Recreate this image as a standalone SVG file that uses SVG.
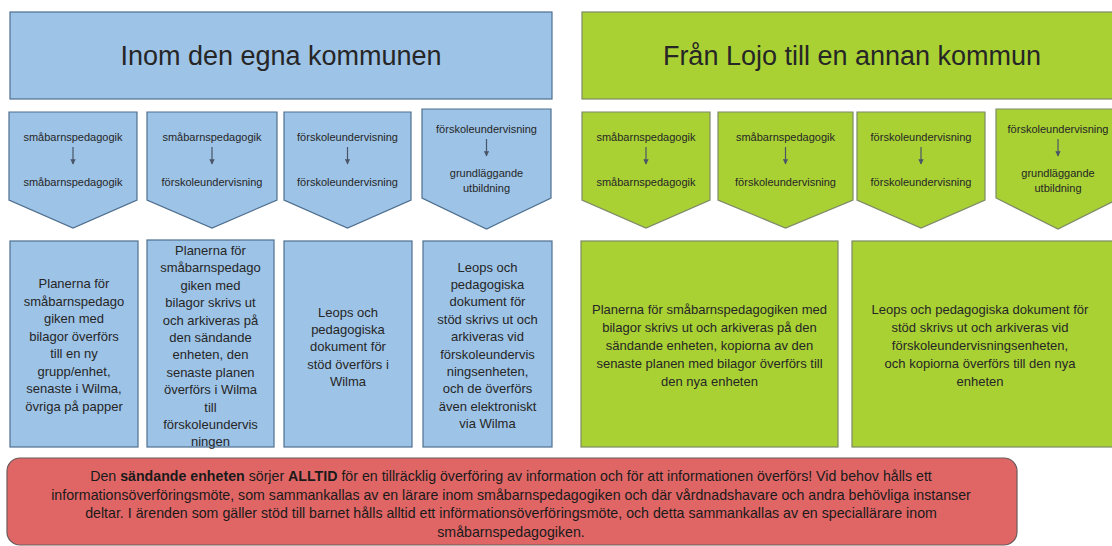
<svg xmlns="http://www.w3.org/2000/svg" width="1112" height="546" viewBox="0 0 1112 546">
<defs>
<style>
.bl{fill:#9dc3e6;stroke:#4f6f8f;stroke-width:1.2}
.gr{fill:#a9d134;stroke:#7d8a66;stroke-width:1.2}
.rd{fill:#e06666;stroke:#6b5a5a;stroke-width:1.2}
text{font-family:"Liberation Sans",Arial,sans-serif;fill:#262626;text-anchor:middle}
.t{font-size:27px}
.s{font-size:11px}
.m{font-size:13px}
.r{font-size:14.2px;fill:#1a1a1a}
.arr{stroke:#4a5568;stroke-width:1.2;fill:none}
</style>
<marker id="ah" viewBox="0 0 10 10" refX="9" refY="5" markerWidth="4.5" markerHeight="4.5" orient="auto"><path d="M0,0 L10,5 L0,10 Z" fill="#4a5568"/></marker>
</defs>
<rect width="1112" height="546" fill="#ffffff"/>

<g id="banner-left"><rect class="bl" x="10" y="12" width="542" height="87"/><text class="t" x="281" y="65">Inom den egna kommunen</text></g>
<g id="banner-right"><rect class="gr" x="582" y="12" width="540" height="87"/><text class="t" x="852" y="65">Från Lojo till en annan kommun</text></g>

<g id="p-b1"><path class="bl" d="M9,112 H137 V200 L73,228 L9,200 Z"/><text class="s" x="73" y="141">småbarnspedagogik</text><text class="s" x="73" y="186">småbarnspedagogik</text></g>
<g id="p-b2"><path class="bl" d="M147,112 H277 V200 L212,228 L147,200 Z"/><text class="s" x="212" y="141">småbarnspedagogik</text><text class="s" x="212" y="186">förskoleundervisning</text></g>
<g id="p-b3"><path class="bl" d="M284,112 H411 V200 L347.5,228 L284,200 Z"/><text class="s" x="347.5" y="141">förskoleundervisning</text><text class="s" x="347.5" y="186">förskoleundervisning</text></g>
<g id="p-b4"><path class="bl" d="M422,109 H551 V198 L486.5,229 L422,198 Z"/><text class="s" x="486.5" y="133">förskoleundervisning</text><text class="s" x="486.5" y="177">grundläggande</text><text class="s" x="486.5" y="192">utbildning</text></g>

<g id="p-g1"><path class="gr" d="M582,112 H710 V200 L646,228 L582,200 Z"/><text class="s" x="646" y="141">småbarnspedagogik</text><text class="s" x="646" y="186">småbarnspedagogik</text></g>
<g id="p-g2"><path class="gr" d="M718,112 H853 V200 L785.5,228 L718,200 Z"/><text class="s" x="785.5" y="141">småbarnspedagogik</text><text class="s" x="785.5" y="186">förskoleundervisning</text></g>
<g id="p-g3"><path class="gr" d="M857,112 H985 V200 L921,228 L857,200 Z"/><text class="s" x="921" y="141">förskoleundervisning</text><text class="s" x="921" y="186">förskoleundervisning</text></g>
<g id="p-g4"><path class="gr" d="M996,109 H1120 V198 L1058,229 L996,198 Z"/><text class="s" x="1058" y="133">förskoleundervisning</text><text class="s" x="1058" y="177">grundläggande</text><text class="s" x="1058" y="192">utbildning</text></g>

<g id="connectors">
<line class="arr" x1="73" y1="147" x2="73" y2="164" marker-end="url(#ah)"/>
<line class="arr" x1="212" y1="147" x2="212" y2="164" marker-end="url(#ah)"/>
<line class="arr" x1="347.5" y1="147" x2="347.5" y2="164" marker-end="url(#ah)"/>
<line class="arr" x1="486.5" y1="139" x2="486.5" y2="156" marker-end="url(#ah)"/>
<line class="arr" x1="646" y1="147" x2="646" y2="164" marker-end="url(#ah)"/>
<line class="arr" x1="785.5" y1="147" x2="785.5" y2="164" marker-end="url(#ah)"/>
<line class="arr" x1="921" y1="147" x2="921" y2="164" marker-end="url(#ah)"/>
<line class="arr" x1="1058" y1="139" x2="1058" y2="156" marker-end="url(#ah)"/>
</g>

<g id="box-b1"><rect class="bl" x="10" y="241" width="128" height="206"/>
<text class="m" x="74" y="288">Planerna för</text>
<text class="m" x="74" y="305.5">småbarnspedago</text>
<text class="m" x="74" y="323">giken med</text>
<text class="m" x="74" y="340.5">bilagor överförs</text>
<text class="m" x="74" y="358">till en ny</text>
<text class="m" x="74" y="375.5">grupp/enhet,</text>
<text class="m" x="74" y="393">senaste i Wilma,</text>
<text class="m" x="74" y="410.5">övriga på papper</text>
</g>
<g id="box-b2"><rect class="bl" x="147" y="240" width="127" height="207"/>
<text class="m" x="210.5" y="255">Planerna för</text>
<text class="m" x="210.5" y="272.4">småbarnspedago</text>
<text class="m" x="210.5" y="289.8">giken med</text>
<text class="m" x="210.5" y="307.2">bilagor skrivs ut</text>
<text class="m" x="210.5" y="324.6">och arkiveras på</text>
<text class="m" x="210.5" y="342">den sändande</text>
<text class="m" x="210.5" y="359.4">enheten, den</text>
<text class="m" x="210.5" y="376.8">senaste planen</text>
<text class="m" x="210.5" y="394.2">överförs i Wilma</text>
<text class="m" x="210.5" y="411.6">till</text>
<text class="m" x="210.5" y="429">förskoleundervis</text>
<text class="m" x="210.5" y="446.4">ningen</text>
</g>
<g id="box-b3"><rect class="bl" x="284" y="241" width="128" height="206"/>
<text class="m" x="348" y="316.5">Leops och</text>
<text class="m" x="348" y="333.9">pedagogiska</text>
<text class="m" x="348" y="351.3">dokument för</text>
<text class="m" x="348" y="368.7">stöd överförs i</text>
<text class="m" x="348" y="386.1">Wilma</text>
</g>
<g id="box-b4"><rect class="bl" x="423" y="241" width="129" height="206"/>
<text class="m" x="487.5" y="271.5">Leops och</text>
<text class="m" x="487.5" y="288.9">pedagogiska</text>
<text class="m" x="487.5" y="306.3">dokument för</text>
<text class="m" x="487.5" y="323.7">stöd skrivs ut och</text>
<text class="m" x="487.5" y="341.1">arkiveras vid</text>
<text class="m" x="487.5" y="358.5">förskoleundervis</text>
<text class="m" x="487.5" y="375.9">ningsenheten,</text>
<text class="m" x="487.5" y="393.3">och de överförs</text>
<text class="m" x="487.5" y="410.7">även elektroniskt</text>
<text class="m" x="487.5" y="428.1">via Wilma</text>
</g>

<g id="box-g1"><rect class="gr" x="581" y="241" width="257" height="206"/>
<text class="m" x="709.5" y="313.5">Planerna för småbarnspedagogiken med</text>
<text class="m" x="709.5" y="331.5">bilagor skrivs ut och arkiveras på den</text>
<text class="m" x="709.5" y="349.5">sändande enheten, kopiorna av den</text>
<text class="m" x="709.5" y="367.5">senaste planen med bilagor överförs till</text>
<text class="m" x="709.5" y="385.5">den nya enheten</text>
</g>
<g id="box-g2"><rect class="gr" x="852" y="241" width="264" height="206"/>
<text class="m" x="980" y="313.5">Leops och pedagogiska dokument för</text>
<text class="m" x="980" y="331.5">stöd skrivs ut och arkiveras vid</text>
<text class="m" x="980" y="349.5">förskoleundervisningsenheten,</text>
<text class="m" x="980" y="367.5">och kopiorna överförs till den nya</text>
<text class="m" x="980" y="385.5">enheten</text>
</g>

<g id="note"><rect class="rd" x="7" y="458" width="1010" height="87" rx="13"/>
<text class="r" x="511" y="481">Den <tspan font-weight="bold">sändande enheten</tspan> sörjer <tspan font-weight="bold">ALLTID</tspan> för en tillräcklig överföring av information och för att informationen överförs! Vid behov hålls ett</text>
<text class="r" x="511" y="499.5">informationsöverföringsmöte, som sammankallas av en lärare inom småbarnspedagogiken och där vårdnadshavare och andra behövliga instanser</text>
<text class="r" x="511" y="518">deltar. I ärenden som gäller stöd till barnet hålls alltid ett införmationsöverföringsmöte, och detta sammankallas av en speciallärare inom</text>
<text class="r" x="511" y="536.5">småbarnspedagogiken.</text>
</g>
</svg>
